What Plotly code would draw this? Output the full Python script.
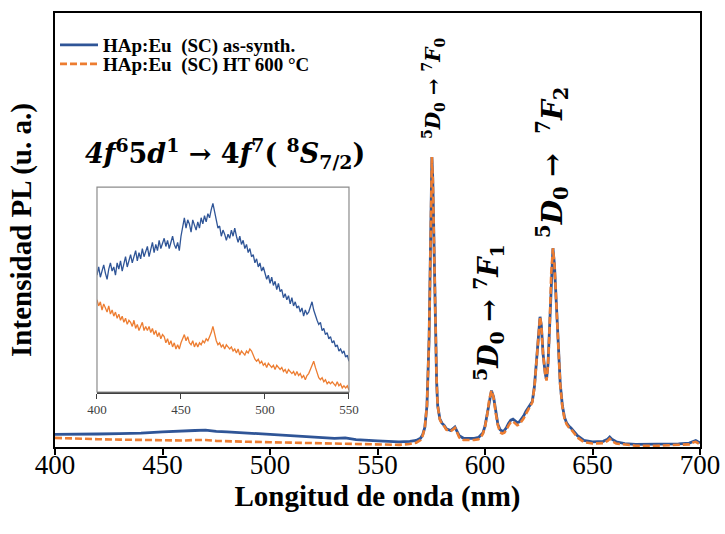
import plotly.graph_objects as go

# ---------------- main spectra (shared wavelength grid) ----------------
wl = [400, 410, 420, 430, 440, 450, 460, 465, 470, 475, 480, 490, 500, 510, 520, 530, 535, 540, 550, 560,
      565, 568, 570, 571, 572, 573, 574, 574.5, 575, 575.3, 575.7, 576, 576.5, 577, 577.5, 578, 579, 580,
      581, 582, 583, 584, 585, 586, 587, 588, 590, 595, 597, 598, 599, 600, 601, 602, 603, 604, 605, 606,
      607, 608, 609, 610, 611, 612, 613, 614, 615, 616, 617, 618, 619, 620, 621, 622, 623, 624, 625, 625.6,
      626.2, 627, 628, 628.6, 629.3, 630, 630.8, 631.6, 632.3, 633, 634, 635, 636, 637, 638, 639, 640, 641,
      643, 646, 650, 655, 657, 658, 659, 661, 665, 670, 680, 690, 695, 697, 698, 699, 700]

as_synth = [29, 29, 30, 31, 32, 35, 36, 38, 39, 36, 35, 32, 29, 26, 23, 20, 21, 17, 14, 12,
            13, 15, 20, 28, 45, 95, 250, 420, 610, 668, 620, 530, 380, 250, 150, 95, 65, 55,
            50, 42, 40, 38, 42, 46, 36, 26, 20, 20, 22, 26, 32, 48, 75, 110, 130, 115, 80, 52,
            40, 36, 38, 45, 55, 62, 64, 60, 56, 58, 64, 72, 82, 90, 98, 105, 140, 210, 280, 300,
            280, 215, 170, 155, 190, 270, 400, 458, 420, 340, 230, 145, 95, 68, 55, 48, 44, 38,
            26, 15, 12, 13, 18, 23, 18, 12, 8, 6, 6, 7, 9, 14, 15, 12, 10]

ht600 = [21, 19, 18, 17, 16, 15, 15, 16, 16, 14, 13, 12, 11, 10, 9, 8, 9, 7, 6, 5,
         7, 10, 16, 26, 44, 95, 250, 420, 610, 668, 620, 530, 380, 250, 150, 95, 63, 53,
         48, 40, 38, 36, 40, 44, 34, 22, 16, 16, 18, 22, 30, 46, 74, 110, 130, 114, 78, 50,
         34, 31, 33, 40, 50, 57, 59, 54, 50, 52, 58, 66, 76, 85, 95, 103, 138, 208, 280, 300,
         280, 213, 168, 153, 188, 268, 400, 458, 420, 338, 228, 143, 92, 65, 52, 45, 41, 34,
         22, 11, 8, 9, 14, 19, 14, 8, 5, 3, 3, 4, 6, 11, 12, 9, 7]

# ---------------- inset (400-550 nm, 1 nm steps) ----------------
inset_wl = list(range(400, 551))
inset_as_synth = [57, 61, 56, 59, 62, 58, 55, 60, 63, 59,
                  61, 57, 63, 60, 64, 59, 62, 66, 61, 64,
                  67, 63, 66, 69, 64, 68, 65, 70, 66, 69,
                  71, 66, 70, 73, 68, 72, 69, 74, 70, 73,
                  75, 71, 74, 70, 73, 76, 72, 70, 73, 69,
                  76, 81, 85, 80, 84, 82, 78, 84, 81, 79,
                  83, 80, 85, 82, 86, 83, 87, 85, 89, 92,
                  88, 84, 80, 81, 76, 79, 77, 74, 77, 75,
                  79, 76, 80, 76, 73, 76, 72, 74, 70, 72,
                  68, 70, 66, 67, 63, 65, 61, 63, 59, 61,
                  58, 55, 57, 53, 56, 52, 54, 50, 53, 49,
                  50, 46, 48, 45, 47, 43, 46, 42, 44, 41,
                  42, 39, 41, 37, 40, 38, 39, 42, 44, 40,
                  37, 35, 33, 34, 30, 31, 28, 29, 26, 27,
                  24, 25, 22, 23, 20, 21, 19, 20, 17, 18,
                  15]
inset_ht600 = [45, 42, 44, 40, 43, 41, 39, 42, 38, 40,
               37, 39, 36, 38, 35, 37, 34, 36, 33, 35,
               34, 32, 35, 31, 33, 30, 32, 34, 30, 32,
               30, 32, 29, 31, 28, 30, 27, 29, 26, 28,
               27, 24, 26, 23, 25, 22, 24, 21, 23, 21,
               24, 26, 28, 25, 27, 24, 23, 25, 22, 24,
               22, 24, 23, 25, 24, 26, 25, 27, 29, 32,
               28, 25, 23, 24, 22, 23, 21, 23, 22, 21,
               22, 20, 21, 19, 21, 18, 20, 19, 18, 20,
               19, 21, 20, 18, 16, 15, 16, 14, 15, 13,
               14, 12, 14, 13, 12, 13, 11, 13, 12, 11,
               12, 10, 11, 9, 11, 10, 9, 10, 8, 10,
               8, 9, 7, 8, 6, 8, 9, 11, 13, 15,
               12, 9, 7, 6, 7, 5, 6, 4, 5, 4,
               5, 4, 3, 5, 3, 4, 2, 3, 2, 3,
               1]

main_ticks = [400, 450, 500, 550, 600, 650, 700]
inset_ticks = [400, 450, 500, 550]
series_names = ["<b>HAp:Eu&nbsp;&nbsp;(SC) as-synth.</b>", "<b>HAp:Eu&nbsp;&nbsp;(SC) HT 600 °C</b>"]

BLUE = "#2F5597"
ORANGE = "#ED7D31"
SERIF = "Liberation Serif"
MATH = "DejaVu Serif"

fig = go.Figure()
fig.add_trace(go.Scatter(x=wl, y=as_synth, mode="lines", name=series_names[0], legend="legend",
                         line=dict(color=BLUE, width=2.8)))
fig.add_trace(go.Scatter(x=wl, y=ht600, mode="lines", name=series_names[1], legend="legend2",
                         line=dict(color=ORANGE, width=2.6, dash="7px,3px")))
fig.add_trace(go.Scatter(x=inset_wl, y=inset_as_synth, mode="lines", showlegend=False,
                         xaxis="x2", yaxis="y2", line=dict(color=BLUE, width=1.3)))
fig.add_trace(go.Scatter(x=inset_wl, y=inset_ht600, mode="lines", showlegend=False,
                         xaxis="x2", yaxis="y2", line=dict(color=ORANGE, width=1.3)))

legend_style = dict(x=0.0, xanchor="left", yanchor="middle", bgcolor="rgba(0,0,0,0)",
                    font=dict(family=SERIF, size=19, color="black"), itemwidth=38)

fig.update_layout(
    width=725, height=534,
    margin=dict(l=55, r=25, t=13, b=87, autoexpand=False),
    paper_bgcolor="white", plot_bgcolor="white",
    showlegend=True,
    legend=dict(y=(447 - 45) / 434, **legend_style),
    legend2=dict(y=(447 - 64) / 434, **legend_style),
    xaxis=dict(range=[400, 700], tickvals=main_ticks, showline=True, linecolor="black",
               linewidth=2, mirror=True, ticks="outside", ticklen=6, tickwidth=2,
               tickcolor="black", showgrid=False, zeroline=False, ticklabelstandoff=-13,
               automargin=False,
               tickfont=dict(family=SERIF, size=27, color="black"),
               title=dict(text="<b>Longitud de onda (nm)</b>", standoff=0,
                          font=dict(family=SERIF, size=29, color="black"))),
    yaxis=dict(range=[0, 1000], showticklabels=False, ticks="", showline=True,
               linecolor="black", linewidth=2, mirror=True, showgrid=False, zeroline=False,
               automargin=False,
               title=dict(text="<b>Intensidad PL (u. a.)</b>", standoff=13,
                          font=dict(family=SERIF, size=29, color="black"))),
    xaxis2=dict(domain=[0.0651, 0.4558], anchor="y2", range=[400, 550], tickvals=inset_ticks,
                showline=True, linecolor="#404040", linewidth=1.5, ticks="outside", ticklen=5,
                tickcolor="#404040", showgrid=False, zeroline=False,
                tickfont=dict(family=SERIF, size=13, color="#404040")),
    yaxis2=dict(domain=[0.1267, 0.599], anchor="x2", range=[0, 100], showticklabels=False,
                ticks="", showline=False, showgrid=False, zeroline=False),
    shapes=[dict(type="rect", xref="paper", yref="paper", x0=0.0651, x1=0.4558,
                 y0=0.1267, y1=0.599, line=dict(color="#8C8C8C", width=1.2), layer="above")],
)

# annotation centres given as pixel positions in the 725x534 picture
annotations = [
    dict(px=225, py=153, text="<b><i>4f</i><sup>6</sup>5<i>d</i><sup>1</sup> → 4<i>f</i><sup>7</sup>( <sup>8</sup><i>S</i><sub>7/2</sub>)</b>",
         size=27),
    dict(px=433, py=89, text="<b><sup>5</sup><i>D</i><sub>0</sub> → <sup>7</sup><i>F</i><sub>0</sub></b>",
         size=20, angle=-90),
    dict(px=488, py=312, text="<b><sup>5</sup><i>D</i><sub>0</sub> → <sup>7</sup><i>F</i><sub>1</sub></b>",
         size=27, angle=-90),
    dict(px=553, py=163, text="<b><sup>5</sup><i>D</i><sub>0</sub> →&nbsp;&nbsp;<sup>7</sup><i>F</i><sub>2</sub></b>",
         size=28, angle=-90),
]
for a in annotations:
    fig.add_annotation(x=(a["px"] - 55) / 645, y=(447 - a["py"]) / 434, xref="paper", yref="paper",
                       text=a["text"], showarrow=False, textangle=a.get("angle", 0),
                       xanchor="center", yanchor="middle",
                       font=dict(family=MATH, size=a["size"], color="black"))

fig.write_html("out.html")
